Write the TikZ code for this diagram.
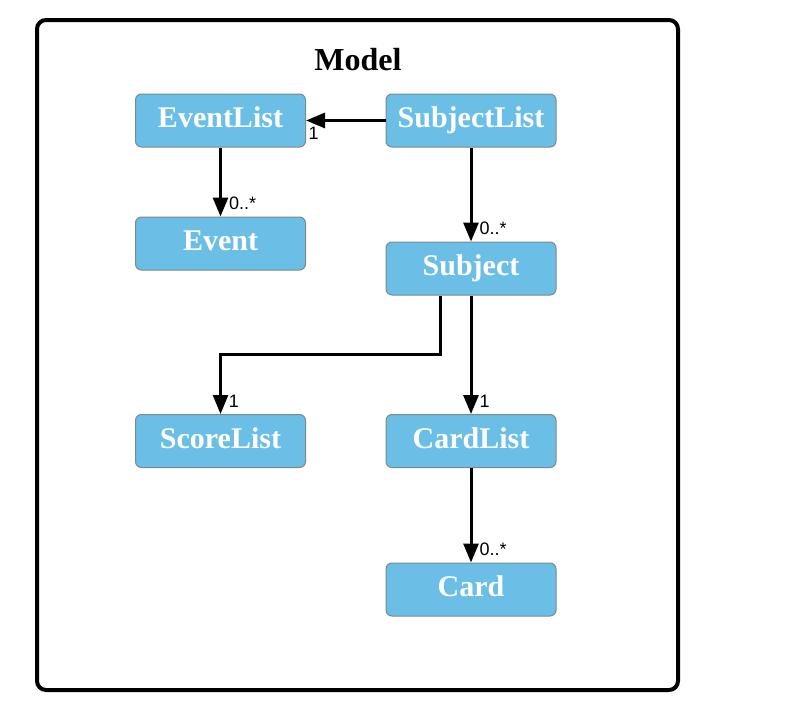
\documentclass[tikz,border=0pt]{standalone}
\usepackage{fontspec}
\setmainfont{Liberation Serif}
\setsansfont{Liberation Sans}
\usetikzlibrary{arrows.meta}
\definecolor{classblue}{HTML}{6BBFE6}
\definecolor{classedge}{HTML}{7A8A90}

\begin{document}
\begin{tikzpicture}[x=1pt, y=-1pt,
		cls/.style={draw=classedge, line width=1pt, fill=classblue, rounded corners=6pt,
			minimum width=170pt, minimum height=53pt, inner sep=0pt,
			text height=21pt, text depth=7pt,
			text=white, font=\fontsize{30}{30}\selectfont\bfseries},
		assoc/.style={line width=3pt, -{Triangle[length=19pt, width=15pt]}},
		mult/.style={font=\sffamily\fontsize{18}{18}\selectfont, inner sep=1pt},
		tipmult/.style={mult, pos=1, above right, xshift=6pt, yshift=4pt}]
			\useasboundingbox (0,0) rectangle (804,720);
			\draw[line width=4pt, rounded corners=9pt] (37,20) rectangle (678,690);
			\node[font=\fontsize{32}{32}\selectfont\bfseries] (title) at (358,60) {Model};
			
			\node[cls] (eventlist) at (220.5,120.5) {EventList};
			\node[cls] (subjectlist) at (471,120.5) {SubjectList};
			\node[cls] (event) at (220.5,243.5) {Event};
			\node[cls] (subject) at (471,268.5) {Subject};
			\node[cls] (scorelist) at (220.5,441) {ScoreList};
			\node[cls] (cardlist) at (471,441) {CardList};
			\node[cls] (card) at (471,589.5) {Card};
			
			\draw[assoc] (subjectlist) -- (eventlist) node[mult, pos=1, below right, yshift=-4pt] {1};
			\draw[assoc] (eventlist) -- (event) node[tipmult] {0..*};
			\draw[assoc] (subjectlist) -- (subject) node[tipmult] {0..*};
			\draw[assoc, line width=2.5pt] (subject.south west) ++(55,0) coordinate (bend)
				-- ++(0,59) -| (scorelist) node[tipmult] {1};
			\draw[assoc] (subject) -- (cardlist) node[tipmult] {1};
			\draw[assoc] (cardlist) -- (card) node[tipmult] {0..*};
		\end{tikzpicture}
\end{document}
